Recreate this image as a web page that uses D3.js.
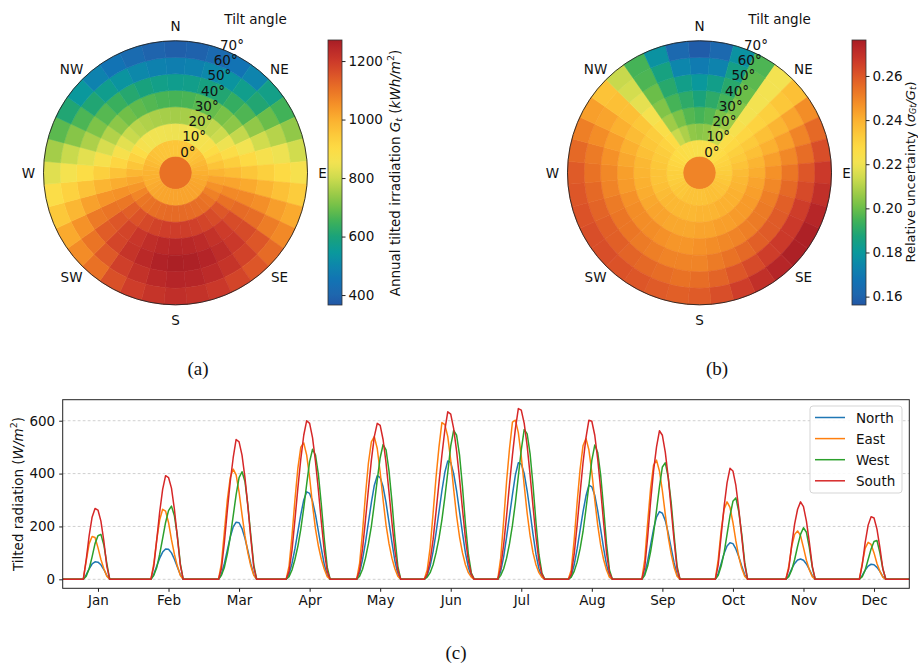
<!DOCTYPE html>
<html><head><meta charset="utf-8">
<script src="https://cdn.jsdelivr.net/npm/d3@7"></script>
<style>
body{margin:0;background:#fff;}
svg{display:block;font-family:"DejaVu Sans",sans-serif;}
</style></head><body>
<svg id="chart" width="918" height="666"></svg>
<script>
// ---------- DATA ----------
const tilts = [0,10,20,30,40,50,60,70];
const azimuths = d3.range(0,360,10); // clockwise from North
const compass = ["N","NE","E","SE","S","SW","W","NW"];

// (a) Annual tilted irradiation (kWh/m2), per tilt ring, per azimuth
const irr0 = 1105;
const irr10 = [955,955,956,957,959,962,972,982,992,1000,1007,1013,1017,1020,1020,1020,1020,1020,1020,1020,1019,1018,1016,1013,1008,1002,998,995,988,978,970,962,959,957,956,955];
const irr20 = [845,846,849,852,857,866,895,925,958,990,1020,1050,1078,1100,1107,1110,1113,1115,1115,1114,1111,1107,1102,1095,1070,1042,1015,985,955,925,895,862,852,849,847,846];
const irr30 = [755,758,765,773,784,800,845,890,935,975,1020,1065,1105,1148,1168,1180,1188,1193,1195,1192,1184,1172,1156,1135,1095,1050,1005,960,915,870,830,795,778,768,761,757];
const irr40 = [660,664,675,690,708,730,790,850,905,955,1010,1065,1115,1168,1198,1220,1235,1243,1245,1240,1228,1208,1182,1150,1100,1045,990,930,870,815,770,730,702,685,672,663];
const irr50 = [570,575,590,612,638,668,735,805,870,930,990,1055,1110,1170,1205,1232,1252,1262,1265,1258,1240,1215,1180,1140,1090,1025,960,895,830,765,715,675,645,617,595,578];
const irr60 = [480,486,505,535,572,612,695,775,845,905,965,1030,1085,1150,1185,1215,1235,1247,1250,1240,1220,1190,1145,1100,1050,985,925,860,795,725,665,610,570,535,505,488];
const irr70 = [385,392,415,450,495,580,655,735,805,870,940,1010,1065,1115,1150,1180,1205,1220,1225,1215,1195,1160,1105,1060,1010,950,890,825,755,680,610,545,490,450,418,395];

// (b) Relative uncertainty
const unc0 = 0.250;
const unc10 = [0.224,0.224,0.225,0.225,0.226,0.227,0.229,0.230,0.231,0.232,0.233,0.234,0.235,0.235,0.236,0.236,0.236,0.235,0.235,0.235,0.235,0.235,0.234,0.234,0.233,0.232,0.231,0.231,0.230,0.229,0.228,0.227,0.226,0.225,0.225,0.224];
const unc20 = [0.204,0.205,0.209,0.213,0.225,0.228,0.231,0.233,0.235,0.237,0.238,0.239,0.240,0.240,0.240,0.240,0.239,0.239,0.239,0.238,0.238,0.238,0.238,0.238,0.237,0.236,0.235,0.235,0.234,0.233,0.232,0.230,0.227,0.213,0.209,0.205];
const unc30 = [0.195,0.197,0.202,0.207,0.223,0.229,0.233,0.236,0.239,0.241,0.243,0.244,0.245,0.245,0.245,0.244,0.244,0.243,0.243,0.242,0.242,0.242,0.243,0.243,0.242,0.241,0.240,0.239,0.238,0.236,0.234,0.232,0.225,0.207,0.202,0.197];
const unc40 = [0.187,0.191,0.195,0.203,0.221,0.230,0.236,0.240,0.244,0.247,0.249,0.251,0.252,0.252,0.251,0.250,0.249,0.248,0.247,0.246,0.246,0.247,0.248,0.248,0.248,0.247,0.245,0.244,0.242,0.240,0.237,0.234,0.222,0.203,0.195,0.191];
const unc50 = [0.180,0.184,0.190,0.200,0.221,0.231,0.239,0.244,0.249,0.253,0.256,0.258,0.259,0.259,0.258,0.256,0.254,0.252,0.250,0.250,0.250,0.251,0.252,0.253,0.253,0.252,0.250,0.249,0.247,0.244,0.240,0.236,0.218,0.200,0.190,0.184];
const unc60 = [0.170,0.173,0.185,0.198,0.221,0.234,0.243,0.250,0.255,0.260,0.263,0.266,0.267,0.267,0.266,0.263,0.260,0.257,0.255,0.254,0.255,0.256,0.257,0.258,0.258,0.257,0.256,0.254,0.252,0.248,0.243,0.236,0.215,0.196,0.186,0.174];
const unc70 = [0.158,0.162,0.178,0.196,0.221,0.236,0.248,0.256,0.262,0.267,0.270,0.273,0.275,0.275,0.273,0.270,0.266,0.262,0.259,0.258,0.259,0.260,0.261,0.262,0.262,0.261,0.260,0.259,0.256,0.251,0.244,0.235,0.213,0.195,0.178,0.162];

const irrTicks = [400,600,800,1000,1200];
const uncTicks = [0.16,0.18,0.20,0.22,0.24,0.26];

// (c) hourly tilted radiation (W/m2), one day per month; first non-zero hour per month
const months = ["Jan","Feb","Mar","Apr","May","Jun","Jul","Aug","Sep","Oct","Nov","Dec"];
const firstHour = [8,7,6,5,5,4,5,5,6,7,7,8];
const northVals = [
 [18,40,58,66,65,55,37,15],
 [20,50,80,103,115,114,100,76,47,18],
 [20,60,110,160,198,216,214,192,155,108,58,18],
 [20,60,115,180,245,300,331,325,295,245,180,115,55,15],
 [25,75,140,215,290,355,392,385,350,290,215,140,70,20],
 [15,50,105,175,255,335,405,448,442,400,335,255,175,100,45,12],
 [30,85,160,240,320,395,441,436,400,335,255,170,95,40,10],
 [12,55,115,185,255,315,356,350,318,260,190,118,55,12],
 [22,70,130,190,235,256,250,222,175,118,62,18],
 [22,60,98,126,138,135,115,85,50,18],
 [15,40,60,73,77,72,58,38,14],
 [15,35,50,57,55,45,30,10]];
const eastVals = [
 [70,135,162,158,120,75,40,12],
 [60,150,225,265,258,215,150,95,50,15],
 [60,180,300,385,417,395,330,245,165,100,50,15],
 [50,165,300,420,500,516,470,385,280,190,125,75,38,10],
 [60,180,320,440,520,540,495,405,300,205,135,80,40,12],
 [35,120,250,385,500,593,585,540,450,340,240,160,100,55,25,8],
 [80,220,370,495,595,602,555,465,355,250,165,100,55,25,8],
 [35,150,290,415,505,533,490,405,300,205,130,75,35,8],
 [75,215,345,432,451,410,335,245,160,95,45,12],
 [75,185,265,293,272,215,145,85,42,12],
 [50,125,170,183,165,120,72,35,10],
 [60,118,140,132,100,60,30,8]];
const westVals = [
 [12,40,85,135,165,170,130,60],
 [15,45,95,155,215,260,277,240,165,60],
 [15,45,95,160,240,320,385,407,370,280,165,55],
 [10,35,75,125,190,270,360,445,492,470,395,280,150,45],
 [12,38,80,135,200,285,375,460,510,490,410,295,160,50],
 [8,25,55,100,155,225,310,405,505,563,545,470,350,210,95,25],
 [15,40,80,135,205,290,390,490,567,550,475,355,215,95,25],
 [8,30,65,115,180,265,355,450,508,480,395,270,135,35],
 [15,50,105,175,260,350,425,441,385,290,165,50],
 [15,50,100,170,240,295,308,255,170,65],
 [10,35,75,125,170,195,178,120,45],
 [10,35,75,115,143,147,100,40]];
const southVals = [
 [75,165,235,268,262,220,145,50],
 [50,150,255,340,392,385,345,265,160,55],
 [40,140,260,370,460,529,520,470,385,275,155,45],
 [30,110,225,345,455,545,600,590,535,445,335,215,105,30],
 [35,115,225,340,450,540,590,582,528,440,330,215,110,35],
 [20,70,150,255,365,470,565,634,625,570,485,380,265,155,70,20],
 [45,130,240,360,470,570,646,640,590,505,395,275,160,70,20],
 [20,95,205,325,440,535,602,598,545,455,340,215,100,25],
 [45,160,295,410,500,562,545,480,385,265,145,40],
 [55,165,275,365,420,410,355,265,160,55],
 [40,130,210,265,293,275,220,140,50],
 [55,140,205,237,232,190,120,40]];
const seriesNames = ["North","East","West","South"];
const radTicks = [0,200,400,600];

// ---------- STYLE ----------
const cmapStops = [0,0.0375,0.093,0.148,0.203,0.258,0.313,0.369,0.424,0.479,0.534,0.589,0.645,0.70,0.755,0.81,0.865,0.92,0.976,1];
const cmapColors = ["#2156a5","#1f66ae","#1273b4","#0d86ac","#0a9a9a","#1aa27a","#3cb05a","#6fbf48","#a0cc48","#cddb4e","#f2e352","#fddc45","#fcc83a","#fbb030","#f59228","#ea7425","#dd5628","#cc3a2a","#b52528","#a61d24"];
const cmap = d3.scaleLinear().domain(cmapStops).range(cmapColors).clamp(true);
const seriesColors = ["#1f77b4","#ff7f0e","#2ca02c","#d62728"];

const svg = d3.select("#chart");
const FS = 13.5;

function drawPolar(cx, cy, diskVal, rings, domain) {
  const color = d3.scaleLinear().domain(domain).range([0,1]);
  const col = v => cmap(color(v));
  const g = svg.append("g").attr("transform", `translate(${cx},${cy})`);
  const r = d3.scaleLinear().domain([0, 80]).range([0, 132]);
  const arc = d3.arc();
  const half = 5 * Math.PI / 180;
  g.append("circle").attr("r", r(10)).attr("fill", col(diskVal)).attr("stroke", col(diskVal)).attr("stroke-width", 0.6);
  rings.forEach((vals, i) => {
    const t = tilts[i + 1];
    vals.forEach((v, j) => {
      const a = azimuths[j] * Math.PI / 180;
      g.append("path")
        .attr("d", arc({innerRadius: r(t), outerRadius: r(t + 10), startAngle: a - half, endAngle: a + half}))
        .attr("fill", col(v)).attr("stroke", col(v)).attr("stroke-width", 0.6);
    });
  });
  g.append("circle").attr("r", r(80)).attr("fill", "none").attr("stroke", "#222").attr("stroke-width", 0.9);
  compass.forEach((c, i) => {
    const a = i * 45 * Math.PI / 180;
    g.append("text").attr("x", 147 * Math.sin(a)).attr("y", -147 * Math.cos(a))
      .attr("text-anchor", "middle").attr("dominant-baseline", "central")
      .attr("font-size", FS).attr("fill", "#111").text(c);
  });
  const la = 22.5 * Math.PI / 180;
  tilts.forEach(t => {
    const rr = r(t + 10);
    g.append("text").attr("x", rr * Math.sin(la) + 6).attr("y", -rr * Math.cos(la) - 6)
      .attr("text-anchor", "middle").attr("dominant-baseline", "central")
      .attr("font-size", FS).attr("fill", "#111").text(t + "°");
  });
  g.append("text").attr("x", 80).attr("y", -154).attr("text-anchor", "middle")
    .attr("dominant-baseline", "central").attr("font-size", FS).attr("fill", "#111").text("Tilt angle");
}

function drawColorbar(x, domain, ticks, fmt, id) {
  const y = d3.scaleLinear().domain(domain).range([305, 40]);
  const grad = svg.append("defs").append("linearGradient").attr("id", id)
    .attr("x1", 0).attr("y1", 1).attr("x2", 0).attr("y2", 0);
  d3.range(0, 1.0001, 0.02).forEach(f => grad.append("stop").attr("offset", f).attr("stop-color", cmap(f)));
  svg.append("rect").attr("x", x).attr("y", 40).attr("width", 14).attr("height", 265)
    .attr("fill", `url(#${id})`).attr("stroke", "#333").attr("stroke-width", 0.8);
  const ax = svg.append("g").attr("transform", `translate(${x + 14},0)`)
    .call(d3.axisRight(y).tickValues(ticks).tickSize(3.5).tickPadding(3).tickFormat(fmt));
  ax.select(".domain").remove();
  ax.selectAll("text").attr("font-size", FS).attr("font-family", "DejaVu Sans").attr("fill", "#111");
  ax.selectAll("line").attr("stroke", "#222");
}

// (a)
drawPolar(175.5, 172.8, irr0, [irr10, irr20, irr30, irr40, irr50, irr60, irr70], [366, 1272]);
drawColorbar(328, [366, 1272], irrTicks, d3.format("d"), "gradA");
{
  const t = svg.append("text").attr("transform", "translate(395,173) rotate(-90)")
    .attr("text-anchor", "middle").attr("dominant-baseline", "central").attr("font-size", FS).attr("fill", "#111");
  t.append("tspan").text("Annual tilted irradiation ");
  t.append("tspan").attr("font-style", "italic").text("G");
  t.append("tspan").attr("font-size", 9.5).attr("dy", 3).attr("font-style", "italic").text("t");
  t.append("tspan").attr("dy", -3).text(" (");
  t.append("tspan").attr("font-style", "italic").text("kWh/m");
  t.append("tspan").attr("font-size", 9.5).attr("dy", -5).text("2");
  t.append("tspan").attr("dy", 5).text(")");
}
// (b)
drawPolar(699.5, 172.8, unc0, [unc10, unc20, unc30, unc40, unc50, unc60, unc70], [0.1562, 0.2763]);
drawColorbar(852, [0.1562, 0.2763], uncTicks, d3.format(".2f"), "gradB");
{
  const t = svg.append("text").attr("transform", "translate(910,172) rotate(-90)")
    .attr("text-anchor", "middle").attr("dominant-baseline", "central").attr("font-size", 13).attr("fill", "#111");
  t.append("tspan").text("Relative uncertainty (");
  t.append("tspan").attr("font-style", "italic").text("σ");
  t.append("tspan").attr("font-size", 8).attr("dy", 3).attr("font-style", "italic").text("Gt");
  t.append("tspan").attr("dy", -3).attr("font-style", "italic").text("/G");
  t.append("tspan").attr("font-size", 9).attr("dy", 3).attr("font-style", "italic").text("t");
  t.append("tspan").attr("dy", -3).text(")");
}

// captions
[["(a)", 198, 368], ["(b)", 717, 368], ["(c)", 456, 652]].forEach(([s, x, y]) => {
  svg.append("text").attr("x", x).attr("y", y).attr("text-anchor", "middle").attr("dominant-baseline", "central")
    .attr("font-family", "Liberation Serif, serif").attr("font-size", 19).attr("fill", "#111").text(s);
});

// (c) line chart
const L = 62.7, R = 909.3, T = 399.7, B = 588.3;
const x = d3.scaleLinear().domain([0, 288]).range([L, R]);
const y = d3.scaleLinear().domain([-34, 679.5]).range([B, T]);
const gC = svg.append("g");
gC.selectAll("line.grid").data(radTicks).join("line").attr("class", "grid")
  .attr("x1", L).attr("x2", R).attr("y1", d => y(d)).attr("y2", d => y(d))
  .attr("stroke", "#c4c4c4").attr("stroke-width", 0.8).attr("stroke-dasharray", "2.8,2.2");

function fullSeries(vals) {
  const arr = d3.range(0, 289).map(t => ({t, v: 0}));
  vals.forEach((mv, m) => mv.forEach((v, i) => { arr[24 * m + firstHour[m] + i].v = v; }));
  return arr;
}
const clip = svg.append("defs").append("clipPath").attr("id", "clipC");
clip.append("rect").attr("x", L).attr("y", T).attr("width", R - L).attr("height", B - T);
const line = d3.line().x(d => x(d.t)).y(d => y(d.v));
[northVals, eastVals, westVals, southVals].forEach((vals, i) => {
  gC.append("path").datum(fullSeries(vals)).attr("d", line).attr("fill", "none")
    .attr("stroke", seriesColors[i]).attr("stroke-width", 1.5).attr("stroke-linejoin", "round")
    .attr("clip-path", "url(#clipC)");
});
gC.append("rect").attr("x", L).attr("y", T).attr("width", R - L).attr("height", B - T)
  .attr("fill", "none").attr("stroke", "#222").attr("stroke-width", 1);

const xAx = svg.append("g").attr("transform", `translate(0,${B})`)
  .call(d3.axisBottom(x).tickValues(months.map((m, i) => 12 + 24 * i)).tickSize(3.5).tickPadding(4)
    .tickFormat((d, i) => months[i]));
xAx.select(".domain").remove();
xAx.selectAll("text").attr("font-size", FS).attr("font-family", "DejaVu Sans").attr("fill", "#111");
xAx.selectAll("line").attr("stroke", "#222");
const yAx = svg.append("g").attr("transform", `translate(${L},0)`)
  .call(d3.axisLeft(y).tickValues(radTicks).tickSize(3.5).tickPadding(4).tickFormat(d3.format("d")));
yAx.select(".domain").remove();
yAx.selectAll("text").attr("font-size", FS).attr("font-family", "DejaVu Sans").attr("fill", "#111");
yAx.selectAll("line").attr("stroke", "#222");
{
  const t = svg.append("text").attr("transform", `translate(18,${(T + B) / 2}) rotate(-90)`)
    .attr("text-anchor", "middle").attr("dominant-baseline", "central").attr("font-size", FS).attr("fill", "#111");
  t.append("tspan").text("Tilted radiation (");
  t.append("tspan").attr("font-style", "italic").text("W/m");
  t.append("tspan").attr("font-size", 9.5).attr("dy", -5).text("2");
  t.append("tspan").attr("dy", 5).text(")");
}
// legend
const lg = svg.append("g");
lg.append("rect").attr("x", 810).attr("y", 406).attr("width", 92).attr("height", 87).attr("rx", 3)
  .attr("fill", "#fff").attr("fill-opacity", 0.85).attr("stroke", "#d0d0d0").attr("stroke-width", 0.9);
seriesNames.forEach((s, i) => {
  const yy = 417.5 + i * 21.1;
  lg.append("line").attr("x1", 815).attr("x2", 845).attr("y1", yy).attr("y2", yy)
    .attr("stroke", seriesColors[i]).attr("stroke-width", 1.5);
  lg.append("text").attr("x", 856).attr("y", yy).attr("dominant-baseline", "central")
    .attr("font-size", FS).attr("fill", "#111").text(s);
});
</script>
</body></html>
